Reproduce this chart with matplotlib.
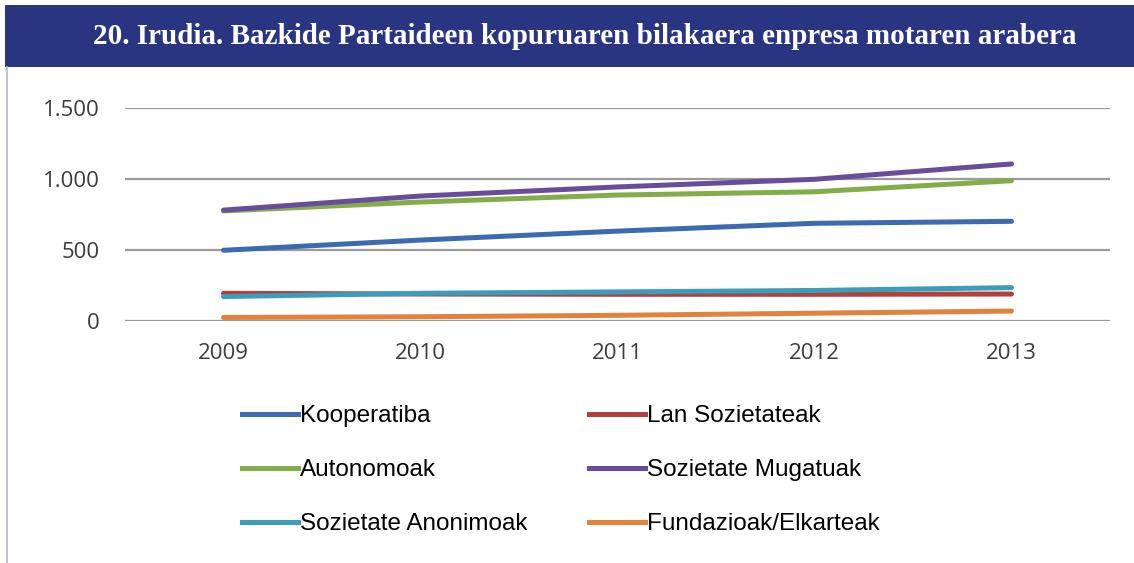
"""Bazkide partaideen kopurua enpresa motaren arabera, 2009-2013."""

import matplotlib

matplotlib.use("Agg")
import matplotlib.pyplot as plt
from matplotlib.lines import Line2D
from matplotlib.patches import Rectangle

years = ["2009", "2010", "2011", "2012", "2013"]
kooperatiba = [498, 570, 633, 688, 702]
lan_sozietateak = [195, 190, 188, 188, 190]
autonomoak = [775, 838, 887, 910, 988]
sozietate_mugatuak = [781, 880, 944, 998, 1106]
sozietate_anonimoak = [172, 195, 205, 215, 235]
fundazioak = [25, 30, 40, 55, 70]

series = [
    ("Kooperatiba", kooperatiba, "#3b6bb0"),
    ("Lan Sozietateak", lan_sozietateak, "#b2403c"),
    ("Autonomoak", autonomoak, "#83ad48"),
    ("Sozietate Mugatuak", sozietate_mugatuak, "#6a4c9c"),
    ("Sozietate Anonimoak", sozietate_anonimoak, "#3b9dba"),
    ("Fundazioak/Elkarteak", fundazioak, "#e3823c"),
]
title = "20. Irudia. Bazkide Partaideen kopuruaren bilakaera enpresa motaren arabera"
yticks = [0, 500, 1000, 1500]
ytick_labels = ["0", "500", "1.000", "1.500"]

W, H = 1134, 563
fig = plt.figure(figsize=(W / 100, H / 100), dpi=100)
fig.patch.set_facecolor("white")

# header banner + left border
fig.add_artist(Rectangle((5 / W, 1 - 67 / H), 1 - 5 / W, 62 / H,
                         transform=fig.transFigure, facecolor="#293581", edgecolor="none"))
fig.add_artist(Line2D([7 / W, 7 / W], [0, 1 - 67 / H], transform=fig.transFigure,
                      color="#b4b4dc", lw=1.2))
fig.text(585 / W, 1 - 37 / H, title, ha="center", va="center", color="white",
         fontsize=21, fontweight="bold", family="Liberation Serif")

ax = fig.add_axes([125 / W, 1 - 321 / H, 985 / W, (321 - 108) / H])
x = list(range(len(years)))
for name, vals, col in series:
    ax.plot(x, vals, color=col, lw=3.6, solid_capstyle="round", label=name, zorder=3)

ax.set_xlim(-0.5, len(years) - 0.5)
ax.set_ylim(0, 1500)
ax.set_yticks(yticks)
ax.set_yticklabels(ytick_labels)
ax.set_xticks(x)
ax.set_xticklabels(years)
ax.grid(axis="y", color="#9a9a9a", lw=1.6)
ax.set_axisbelow(True)
for s in ax.spines.values():
    s.set_visible(False)
ax.tick_params(length=0, labelsize=16, labelcolor="#3c3c3c")
ax.tick_params(axis="y", pad=18)
ax.tick_params(axis="x", pad=16)
for lab in ax.get_xticklabels() + ax.get_yticklabels():
    lab.set_family("Open Sans")

handles = {name: Line2D([], [], color=col, lw=3.6) for name, _, col in series}
order = ["Kooperatiba", "Autonomoak", "Sozietate Anonimoak",
         "Lan Sozietateak", "Sozietate Mugatuak", "Fundazioak/Elkarteak"]
fig.legend([handles[n] for n in order], order, ncol=2, frameon=False,
           loc="upper left", bbox_to_anchor=(242 / W, 1 - 405 / H),
           borderpad=0, borderaxespad=0, handlelength=2.3, handletextpad=0.1,
           columnspacing=2.5, labelspacing=1.32,
           prop={"family": "Liberation Sans", "size": 17.5})

fig.savefig("out.png", dpi=100)
